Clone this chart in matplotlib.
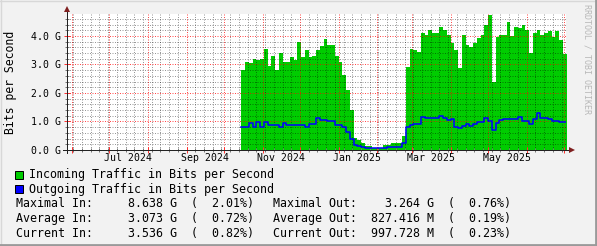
import numpy as np
import matplotlib
matplotlib.use("Agg")
from matplotlib import pyplot as plt
from matplotlib import dates as mdates
from matplotlib.patches import Rectangle
from matplotlib.lines import Line2D
import datetime as dt

# Samples every 3 days, starting 2024-10-15 (values in Gbit/s)
sampleStart = dt.datetime(2024, 10, 15)
sampleDays = 3
incomingG = [2.8, 3.1, 3.05, 3.2, 3.16, 3.2, 3.55, 2.95, 3.3, 2.8,
             3.4, 3.1, 3.1, 3.25, 3.16, 3.8, 3.27, 3.5, 3.27, 3.3,
             3.5, 3.65, 3.9, 3.68, 3.68, 3.3, 3.1, 2.63, 2.1, 1.4,
             0.42, 0.35, 0.23, 0.15, 0.14, 0.08, 0.08, 0.08, 0.18, 0.18,
             0.26, 0.23, 0.23, 0.5, 2.9, 3.55, 3.5, 3.45, 4.1, 4.03,
             4.2, 4.1, 4.1, 4.3, 4.2, 4.03, 3.74, 3.5, 2.87, 4.03,
             3.7, 3.63, 3.75, 3.92, 4.03, 4.39, 4.74, 2.4, 3.98, 4.05,
             4.03, 4.5, 4.0, 4.33, 4.27, 4.39, 4.21, 3.4, 4.1, 4.21,
             4.03, 4.1, 4.16, 3.98, 4.16, 3.87, 3.35]
outgoingG = [0.80, 0.80, 0.96, 0.80, 0.98, 0.80, 0.98, 0.86, 0.86, 0.86,
             0.82, 0.96, 0.86, 0.86, 0.86, 0.86, 0.86, 0.82, 0.92, 0.92,
             1.12, 1.05, 1.05, 1.0, 1.0, 0.86, 0.86, 0.82, 0.64, 0.4,
             0.18, 0.14, 0.12, 0.08, 0.08, 0.06, 0.06, 0.08, 0.08, 0.12,
             0.12, 0.12, 0.12, 0.23, 0.82, 0.86, 0.92, 0.92, 1.17, 1.12,
             1.12, 1.12, 1.12, 1.2, 1.12, 1.05, 1.09, 0.82, 0.76, 0.84,
             0.92, 0.84, 0.92, 0.98, 0.98, 1.12, 1.03, 0.70, 0.95, 1.05,
             1.07, 1.07, 1.07, 1.07, 1.17, 1.0, 1.0, 0.92, 1.1, 1.31,
             1.12, 1.12, 1.08, 1.02, 1.02, 0.98, 0.98]

yTicks = [0, 1, 2, 3, 4]
yTickLabels = ["0.0 G", "1.0 G", "2.0 G", "3.0 G", "4.0 G"]
monthLabels = ["Jul 2024", "Sep 2024", "Nov 2024",
               "Jan 2025", "Mar 2025", "May 2025"]
monthLabelDates = [dt.datetime(2024, 7, 16), dt.datetime(2024, 9, 16),
                   dt.datetime(2024, 11, 16), dt.datetime(2025, 1, 16),
                   dt.datetime(2025, 3, 16), dt.datetime(2025, 5, 16)]

legendNames = ["Incoming Traffic in Bits per Second",
               "Outgoing Traffic in Bits per Second"]
statNamesIn = ["Maximal In:", "Average In:", "Current In:"]
statValuesIn = ["8.638 G", "3.073 G", "3.536 G"]
statPctIn = ["2.01%", "0.72%", "0.82%"]
statNamesOut = ["Maximal Out:", "Average Out:", "Current Out:"]
statValuesOut = ["3.264 G", "827.416 M", "997.728 M"]
statPctOut = ["0.76%", "0.19%", "0.23%"]

# Colours
green = "#00CC00"
blue = "#0000FF"
arrowColor = "#7F1F1F"
W, H = 597, 246


def px(x, y):
    """Pixel position to figure fraction."""
    return x / W, 1 - y / H


mono = "DejaVu Sans Mono"

fig = plt.figure(figsize=(W / 100, H / 100), dpi=100, facecolor="#F2F2F2")

# Canvas: 67..566 in x, 14..150 in y
ax = fig.add_axes([67 / W, 1 - 150 / H, 499 / W, 136 / H])
ax.set_facecolor("white")
for s in ax.spines.values():
    s.set_visible(False)

# Build step data
dates = [sampleStart + dt.timedelta(days=sampleDays * i)
         for i in range(len(incomingG) + 1)]
inExt = incomingG + [incomingG[-1]]
outExt = outgoingG + [outgoingG[-1]]

ax.fill_between(dates, inExt, 0, step="post", color=green, lw=0,
                antialiased=False, zorder=1)
ax.step(dates, outExt, where="post", color=blue, lw=1.1, zorder=4)

ax.set_xlim(dt.datetime(2024, 5, 28), dt.datetime(2025, 7, 2, 14))
ax.set_ylim(0, 4.77)

# Grid: months red, weeks grey; 1 G red, 0.2 G grey
ax.xaxis.set_major_locator(mdates.MonthLocator(bymonthday=1))
ax.xaxis.set_minor_locator(mdates.WeekdayLocator(byweekday=mdates.SU))
ax.set_yticks(yTicks)
ax.set_yticks(np.arange(0.2, 4.8, 0.2), minor=True)
ax.set_yticklabels(yTickLabels, family=mono, fontsize=7.1)
ax.set_xticklabels([])
ax.set_axisbelow(False)
ax.grid(which="minor", color="black", alpha=0.4, lw=0.72,
        ls=(0, (1, 1.5)))
ax.grid(which="major", color="#FF0000", alpha=0.7, lw=0.72,
        ls=(0, (1, 1.5)))
ax.tick_params(which="major", direction="inout", length=4, width=0.72,
               color="#FF3333", pad=2.5)
ax.tick_params(which="minor", direction="inout", length=3, width=0.72,
               color="#777777")

# Month labels centred in the month
for d, lab in zip(monthLabelDates, monthLabels):
    ax.text(d, -0.06, lab, transform=ax.get_xaxis_transform(),
            ha="center", va="center", family=mono, fontsize=7.1)

# Axes with arrows
ax.plot([-4 / 499, 1.01], [0, 0], color="#222222", lw=0.72,
        transform=ax.transAxes, clip_on=False, zorder=6)
ax.plot([0, 0], [-3 / 136, 1.03], color="#222222", lw=0.72,
        transform=ax.transAxes, clip_on=False, zorder=6)
ax.plot(1.013, 0, marker=">", ms=4, color=arrowColor, mew=0,
        transform=ax.transAxes, clip_on=False, zorder=7)
ax.plot(0, 1.035, marker="^", ms=4, color=arrowColor, mew=0,
        transform=ax.transAxes, clip_on=False, zorder=7)

# Titles
fig.text(*px(11, 82), "Bits per Second", rotation=90, ha="center",
         va="center", family=mono, fontsize=8.3)
fig.text(*px(587, 4), "RRDTOOL / TOBI OETIKER", rotation=270, ha="center",
         va="top", family=mono, fontsize=6, color="#B8B8B8")

# Legend
for i, (name, col) in enumerate(zip(legendNames, [green, blue])):
    y = 174.5 + 14.5 * i
    bx, by = px(15, y + 4)
    fig.patches.append(Rectangle((bx, by), 8 / W, 8 / H, facecolor=col,
                                 edgecolor="black", lw=0.72,
                                 transform=fig.transFigure, figure=fig))
    fig.text(*px(29, y), name, ha="left", va="center", family=mono,
             fontsize=8.4)

# Statistics, monospace columns
for i in range(3):
    y = 203.5 + 15 * i
    lineIn = (f"{statNamesIn[i]:<12}{statValuesIn[i]:>11}"
              f"  ({statPctIn[i]:>7})")
    lineOut = (f"{statNamesOut[i]:<12}{statValuesOut[i]:>11}"
               f"  ({statPctOut[i]:>7})")
    fig.text(*px(16.5, y), lineIn, ha="left", va="center",
             family=mono, fontsize=8.4)
    fig.text(*px(272.7, y), lineOut, ha="left", va="center",
             family=mono, fontsize=8.4)

# 3D-ish border of the picture
fig.lines.append(Line2D([0, 1], [1 - 0.5 / H, 1 - 0.5 / H], color="#D8D8D8",
                        lw=1, transform=fig.transFigure))
fig.lines.append(Line2D([0.5 / W, 0.5 / W], [0, 1], color="#D8D8D8",
                        lw=1, transform=fig.transFigure))
fig.lines.append(Line2D([0, 1], [1.5 / H, 1.5 / H], color="#9A9A9A",
                        lw=2, transform=fig.transFigure))
fig.lines.append(Line2D([1 - 1.5 / W, 1 - 1.5 / W], [0, 1], color="#9A9A9A",
                        lw=2, transform=fig.transFigure))

fig.savefig("out.png", dpi=100, facecolor=fig.get_facecolor())
